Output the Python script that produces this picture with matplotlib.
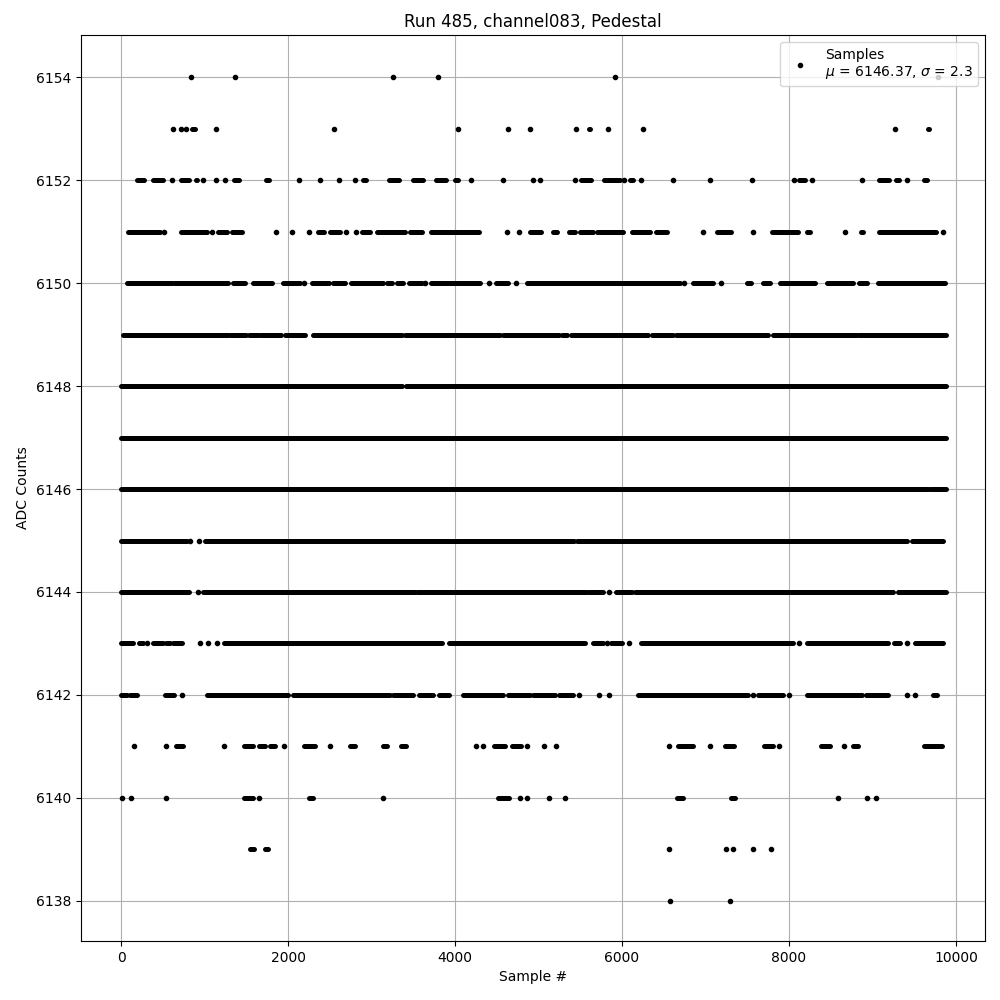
import matplotlib.pyplot as plt

# ADC samples. Each level lists (first, last) sample # of a run of
# touching dots; a single dot is written as (n, n).
title = 'Run 485, channel083, Pedestal'
legend_label = 'Samples\n$\\mu$ = 6146.37, $\\sigma$ = 2.3'

spans_6154 = [(840, 840), (1370, 1370), (3260, 3260), (3790, 3790), (5920, 5920), (9780, 9780)]
spans_6153 = [(620, 620), (720, 720), (780, 780), (845, 880), (1140, 1140), (2555, 2555),
              (4030, 4030), (4640, 4640), (4900, 4900), (5450, 5450), (5600, 5615),
              (5835, 5835), (6245, 6245), (9275, 9275), (9660, 9675)]
spans_6152 = [(188, 279), (380, 499), (611, 611), (722, 818), (898, 914), (986, 986),
              (1141, 1141), (1249, 1249), (1353, 1410), (1737, 1769), (2135, 2135),
              (2387, 2387), (2614, 2614), (2806, 2806), (2895, 2934), (3206, 3325),
              (3501, 3613), (3772, 3892), (4000, 4039), (4192, 4192), (4578, 4578),
              (4938, 4938), (5022, 5022), (5437, 5437), (5509, 5629), (5784, 5976),
              (6024, 6024), (6096, 6135), (6224, 6224), (6614, 6614), (7058, 7058),
              (7561, 7561), (8063, 8063), (8123, 8192), (8279, 8279), (8878, 8878),
              (9081, 9201), (9281, 9321), (9410, 9410), (9617, 9656)]
spans_6151 = [(88, 467), (519, 519), (719, 1026), (1094, 1094), (1166, 1265), (1325, 1445),
              (1852, 1852), (2044, 2044), (2255, 2255), (2363, 2431), (2503, 2623),
              (2691, 2691), (2814, 2814), (2882, 2982), (3062, 3401), (3461, 3601),
              (3709, 4291), (4619, 4619), (4770, 4770), (4898, 5026), (5170, 5225),
              (5369, 5437), (5497, 5657), (5704, 6008), (6124, 6335), (6407, 6535),
              (6974, 6974), (7134, 7302), (7573, 7573), (7792, 8112), (8212, 8251),
              (8667, 8667), (8862, 8890), (9081, 9761), (9848, 9848)]
spans_6150 = [(68, 607), (635, 1086), (1106, 1285), (1345, 1485), (1585, 1805), (1936, 2144),
              (2192, 2192), (2287, 2495), (2543, 2683), (2751, 3141), (3182, 3242),
              (3301, 3373), (3453, 3601), (3641, 3641), (3709, 4299), (4411, 4411),
              (4491, 4638), (4727, 4727), (4866, 6695), (6746, 6746), (6854, 7094),
              (7182, 7182), (7493, 7541), (7692, 7772), (7892, 8311), (8451, 8770),
              (8842, 8930), (9069, 9868)]
spans_6149 = [(28, 1026), (1046, 1285), (1305, 1493), (1533, 1645), (1665, 1916), (1968, 2207),
              (2295, 3370), (3400, 4320), (4339, 4539), (4578, 5249), (5285, 5338),
              (5386, 6315), (6355, 6614), (6647, 7752), (7804, 8811), (8842, 9880)]
spans_6148 = [(0, 3370), (3410, 9880)]
spans_6147 = [(0, 9880)]
spans_6146 = [(0, 9665), (9690, 9880)]
spans_6145 = [(0, 794), (826, 826), (938, 938), (1002, 5425), (5458, 9230), (9249, 9417),
              (9469, 9848)]
spans_6144 = [(0, 427), (447, 818), (926, 926), (986, 3521), (3548, 3972), (3992, 5569),
              (5597, 5776), (5848, 5848), (5928, 6124), (6156, 9249), (9309, 9880)]
spans_6143 = [(0, 148), (219, 267), (308, 308), (387, 507), (539, 587), (627, 727), (946, 946),
              (1046, 1046), (1153, 1153), (1234, 3841), (3932, 5557), (5649, 5776),
              (5817, 5817), (5868, 5997), (6087, 6087), (6224, 8052), (8120, 8120),
              (8212, 9190), (9261, 9329), (9417, 9417), (9509, 9848)]
spans_6142 = [(0, 68), (108, 188), (527, 635), (734, 734), (1034, 1386), (1405, 2004),
              (2064, 3221), (3261, 3501), (3573, 3740), (3812, 3932), (4100, 4578),
              (4638, 4898), (4938, 5198), (5249, 5417), (5489, 5489), (5728, 5728),
              (5848, 5848), (6195, 7513), (7573, 7573), (7633, 7932), (8000, 8000),
              (8219, 8871), (8918, 9190), (9410, 9410), (9509, 9509), (9728, 9776)]
spans_6141 = [(160, 160), (539, 539), (659, 739), (1237, 1237), (1477, 1577), (1657, 1725),
              (1785, 1844), (1956, 1956), (2195, 2323), (2503, 2503), (2743, 2802),
              (3141, 3182), (3350, 3413), (4252, 4252), (4339, 4339), (4467, 4599),
              (4679, 4787), (4859, 4859), (5066, 5066), (5209, 5209), (6566, 6566),
              (6674, 6846), (7058, 7058), (7233, 7345), (7704, 7812), (7884, 7884),
              (8379, 8491), (8662, 8662), (8763, 8830), (9617, 9832)]
spans_6140 = [(16, 16), (116, 116), (539, 539), (1477, 1577), (1657, 1657), (2255, 2303),
              (3141, 3141), (4519, 4651), (4778, 4778), (4866, 4866), (5129, 5129),
              (5321, 5321), (6654, 6726), (7302, 7353), (8591, 8591), (8938, 8938),
              (9046, 9046)]
spans_6139 = [(1545, 1593), (1725, 1765), (6566, 6566), (7245, 7245), (7333, 7333),
              (7573, 7573), (7788, 7788)]
spans_6138 = [(6578, 6578), (7297, 7297)]

level_spans = {
    6154: spans_6154, 6153: spans_6153, 6152: spans_6152, 6151: spans_6151,
    6150: spans_6150, 6149: spans_6149, 6148: spans_6148, 6147: spans_6147,
    6146: spans_6146, 6145: spans_6145, 6144: spans_6144, 6143: spans_6143,
    6142: spans_6142, 6141: spans_6141, 6140: spans_6140, 6139: spans_6139,
    6138: spans_6138,
}

fig, ax = plt.subplots(figsize=(10, 10))

single_x, single_y = [], []
for level, spans in level_spans.items():
    for start, end in spans:
        if start == end:
            single_x.append(start)
            single_y.append(level)
        else:
            # runs of overlapping dots look like a thick rounded bar
            ax.hlines(level, start, end, colors='black', linewidth=3.6, capstyle='round')

ax.plot(single_x, single_y, 'k.', label=legend_label)

ax.set_xlim(-480, 10347)
ax.set_ylim(6137.22, 6154.82)
ax.set_yticks(range(6138, 6155, 2))
ax.set_title(title)
ax.set_xlabel('Sample #')
ax.set_ylabel('ADC Counts')
ax.grid(True)
ax.legend(loc='upper right')

plt.subplots_adjust(left=0.081, right=0.985, top=0.965, bottom=0.059)
plt.savefig('out.png', dpi=100)
